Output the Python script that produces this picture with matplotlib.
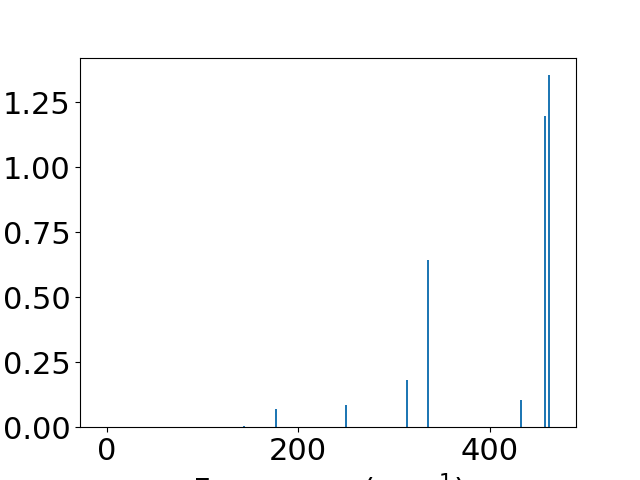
import matplotlib
matplotlib.use("Agg")
import matplotlib.pyplot as plt

frequencies = [143.3, 176.7, 249.8, 313.8, 335.5, 432.9, 458.0, 462.1]
intensities = [0.005, 0.070, 0.085, 0.181, 0.643, 0.105, 1.197, 1.354]

plt.rcParams['font.size'] = 22
fig, ax = plt.subplots(figsize=(6.4, 4.8), dpi=100)
ax.bar(frequencies, intensities, width=2.0, color='#1f77b4')
ax.set_xlim(-27.7, 490.3)
ax.set_xlabel('Frequency (cm$^{-1}$)')
fig.savefig('out.png', dpi=100)
